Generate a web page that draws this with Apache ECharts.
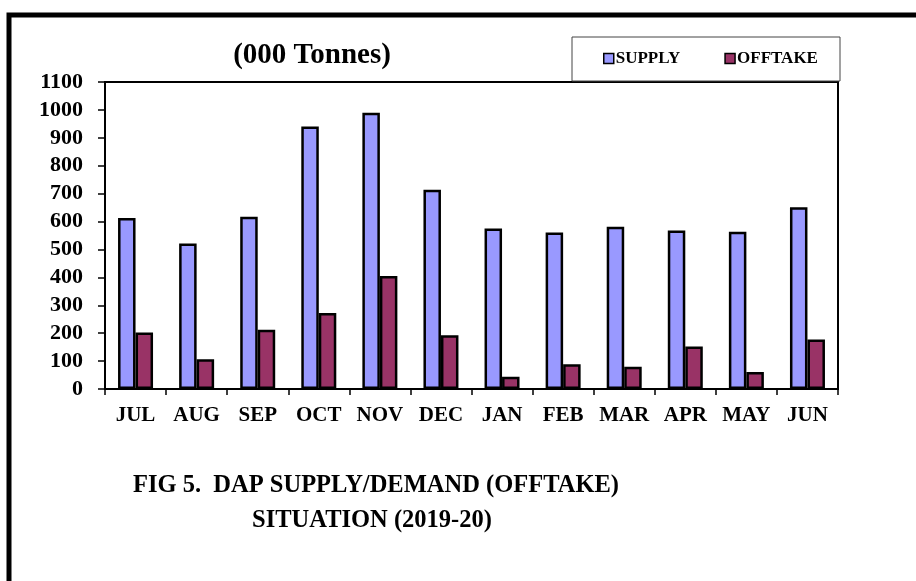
<!DOCTYPE html>
<html>
<head>
<meta charset="utf-8">
<script src="https://cdn.jsdelivr.net/npm/echarts@6/dist/echarts.min.js"></script>
<style>
html,body{margin:0;padding:0;background:#fff;}
#c{width:916px;height:581px;}
</style>
</head>
<body>
<div id="c"></div>
<script>
var months = ['JUL','AUG','SEP','OCT','NOV','DEC','JAN','FEB','MAR','APR','MAY','JUN'];
var supply = [613, 521, 617, 941, 990, 714, 575, 561, 581, 568, 563, 651];
var offtake = [202, 107, 212, 272, 405, 193, 44, 89, 80, 152, 61, 177];
var seriesNames = ['SUPPLY', 'OFFTAKE'];
var unitTitle = '(000 Tonnes)';
var captionLines = ['FIG 5.  DAP SUPPLY/DEMAND (OFFTAKE)', 'SITUATION (2019-20)'];

var FONT = "'Liberation Serif','Times New Roman',serif";
var chart = echarts.init(document.getElementById('c'), null, {renderer:'canvas'});
chart.setOption({
  animation: false,
  backgroundColor: '#fff',
  textStyle: {fontFamily: FONT},
  grid: {left: 105, right: 78, top: 82, bottom: 192, show: true, borderColor: '#000', borderWidth: 2, backgroundColor: 'transparent'},
  legend: {
    data: seriesNames,
    left: 603, top: 50,
    icon: 'rect', itemWidth: 10, itemHeight: 10, itemGap: 44,
    padding: 0,
    textStyle: {fontFamily: FONT, fontWeight: 'bold', fontSize: 17, color: '#000', padding: [0,0,0,-3]},
    itemStyle: {borderColor: '#000', borderWidth: 1.5}
  },
  xAxis: {
    type: 'category', data: months,
    axisLine: {show: true, lineStyle: {color: '#000', width: 2}},
    axisTick: {show: true, length: 6, lineStyle: {color: '#000', width: 1.5}},
    axisLabel: {interval: 0, margin: 16, fontFamily: FONT, fontWeight: 'bold', fontSize: 21, color: '#000'},
    splitLine: {show: false}
  },
  yAxis: {
    type: 'value', min: 0, max: 1100, interval: 100,
    axisLine: {show: true, lineStyle: {color: '#000', width: 2}},
    axisTick: {show: true, length: 7, lineStyle: {color: '#000', width: 1.5}},
    axisLabel: {margin: 22, fontFamily: FONT, fontWeight: 'bold', fontSize: 22, color: '#000',
      formatter: function (v) { return String(v); }},
    splitLine: {show: false}
  },
  series: [
    {name: seriesNames[0], type: 'bar', data: supply, barWidth: 17.5, barGap: '0%',
     itemStyle: {color: '#9999FF', borderColor: '#000', borderWidth: 2.5}},
    {name: seriesNames[1], type: 'bar', data: offtake, barWidth: 17.5, barGap: '0%',
     itemStyle: {color: '#993366', borderColor: '#000', borderWidth: 2.5}}
  ],
  graphic: [
    {type: 'rect', z: -1, shape: {x: 9, y: 15, width: 1000, height: 1000}, style: {fill: 'none', stroke: '#000', lineWidth: 5}},
    {type: 'rect', z: 0, shape: {x: 572, y: 37, width: 268, height: 44}, style: {fill: '#fff', stroke: '#444', lineWidth: 1}},
    {type: 'text', z: 5, style: {text: unitTitle, x: 312, y: 56, textAlign: 'center', textVerticalAlign: 'middle', font: 'bold 29px ' + FONT, fill: '#000'}},
    {type: 'text', z: 5, style: {text: captionLines[0], x: 376, y: 486, textAlign: 'center', textVerticalAlign: 'middle', font: 'bold 24.5px ' + FONT, fill: '#000'}},
    {type: 'text', z: 5, style: {text: captionLines[1], x: 372, y: 521, textAlign: 'center', textVerticalAlign: 'middle', font: 'bold 24.5px ' + FONT, fill: '#000'}}
  ]
});
</script>
</body>
</html>
